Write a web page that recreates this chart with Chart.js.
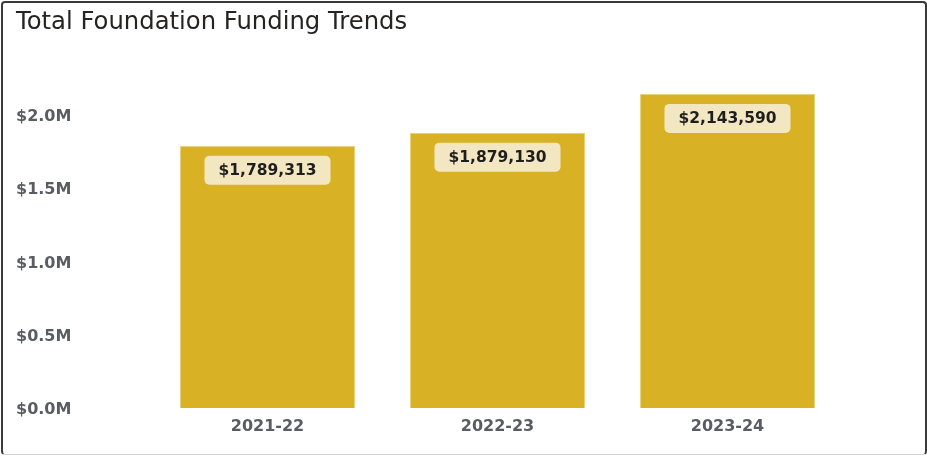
<!DOCTYPE html>
<html>
<head>
<meta charset="utf-8">
<script src="https://cdn.jsdelivr.net/npm/chart.js@4.4.1/dist/chart.umd.min.js"></script>
<style>
  html, body { margin: 0; padding: 0; background: #fff; }
  #card { position: absolute; left: 1px; top: 1px; width: 926px; height: 454px; box-sizing: border-box;
          border-left: 2px solid #3a3a3a; border-top: 2px solid #3a3a3a; border-right: 2px solid #3a3a3a;
          border-bottom: 1px solid #cfcfcf; border-radius: 4px; }
  #wrap { position: absolute; left: 0; top: 0; width: 927px; height: 456px; }
</style>
</head>
<body>
<div id="card"></div>
<div id="wrap"><canvas id="c"></canvas></div>
<script>
const categories = ['2021-22', '2022-23', '2023-24'];
const funding = [1789313, 1879130, 2143590];
const yTickValues = [0, 500000, 1000000, 1500000, 2000000];
const titleText = 'Total Foundation Funding Trends';

const FONT = '"DejaVu Sans", sans-serif';

const labelPlugin = {
  id: 'valueLabels',
  afterDatasetsDraw(chart) {
    const ctx = chart.ctx;
    const meta = chart.getDatasetMeta(0);
    ctx.save();
    ctx.font = 'bold 15.5px ' + FONT;
    meta.data.forEach((bar, i) => {
      const txt = '$' + funding[i].toLocaleString('en-US');
      const w = ctx.measureText(txt).width + 28;
      const h = 29;
      const x = bar.x - w / 2;
      const y = bar.y + 10;
      ctx.fillStyle = '#F3E7C1';
      ctx.beginPath();
      ctx.roundRect(x, y, w, h, 5);
      ctx.fill();
      ctx.fillStyle = '#1e1e1e';
      ctx.textAlign = 'center';
      ctx.textBaseline = 'middle';
      ctx.fillText(txt, bar.x, y + h / 2 + 0.5);
    });
    ctx.restore();
  }
};

new Chart(document.getElementById('c'), {
  type: 'bar',
  data: {
    labels: categories,
    datasets: [{
      data: funding,
      backgroundColor: '#D8B124',
      borderColor: '#EBD37C',
      borderWidth: 1,
      categoryPercentage: 1,
      barPercentage: 0.761
    }]
  },
  options: {
    responsive: true,
    maintainAspectRatio: false,
    animation: false,
    layout: { padding: { left: 16, right: 84.5, top: 0, bottom: 0 } },
    plugins: {
      legend: { display: false },
      tooltip: { enabled: false },
      title: {
        display: true,
        text: titleText,
        align: 'start',
        color: '#252423',
        font: { family: FONT, size: 24.3, weight: 'normal' },
        padding: { top: 7.6, bottom: 34.2 }
      }
    },
    scales: {
      x: {
        grid: { display: false, drawTicks: false },
        border: { display: false },
        ticks: { color: '#5a5c63', font: { family: FONT, size: 16, weight: 'bold' }, padding: 9 },
        afterFit(s) { s.height = 48; }
      },
      y: {
        min: 0,
        max: 2300000,
        grid: { display: false, drawTicks: false },
        border: { display: false },
        afterBuildTicks(s) { s.ticks = yTickValues.map(v => ({ value: v })); },
        ticks: {
          autoSkip: false,
          crossAlign: 'far',
          labelOffset: 2,
          color: '#5a5c63',
          font: { family: FONT, size: 16, weight: 'bold' },
          padding: 4,
          callback: v => '$' + (v / 1e6).toFixed(1) + 'M'
        },
        afterFit(s) { s.width = 136.5; }
      }
    }
  },
  plugins: [labelPlugin]
});
</script>
</body>
</html>
